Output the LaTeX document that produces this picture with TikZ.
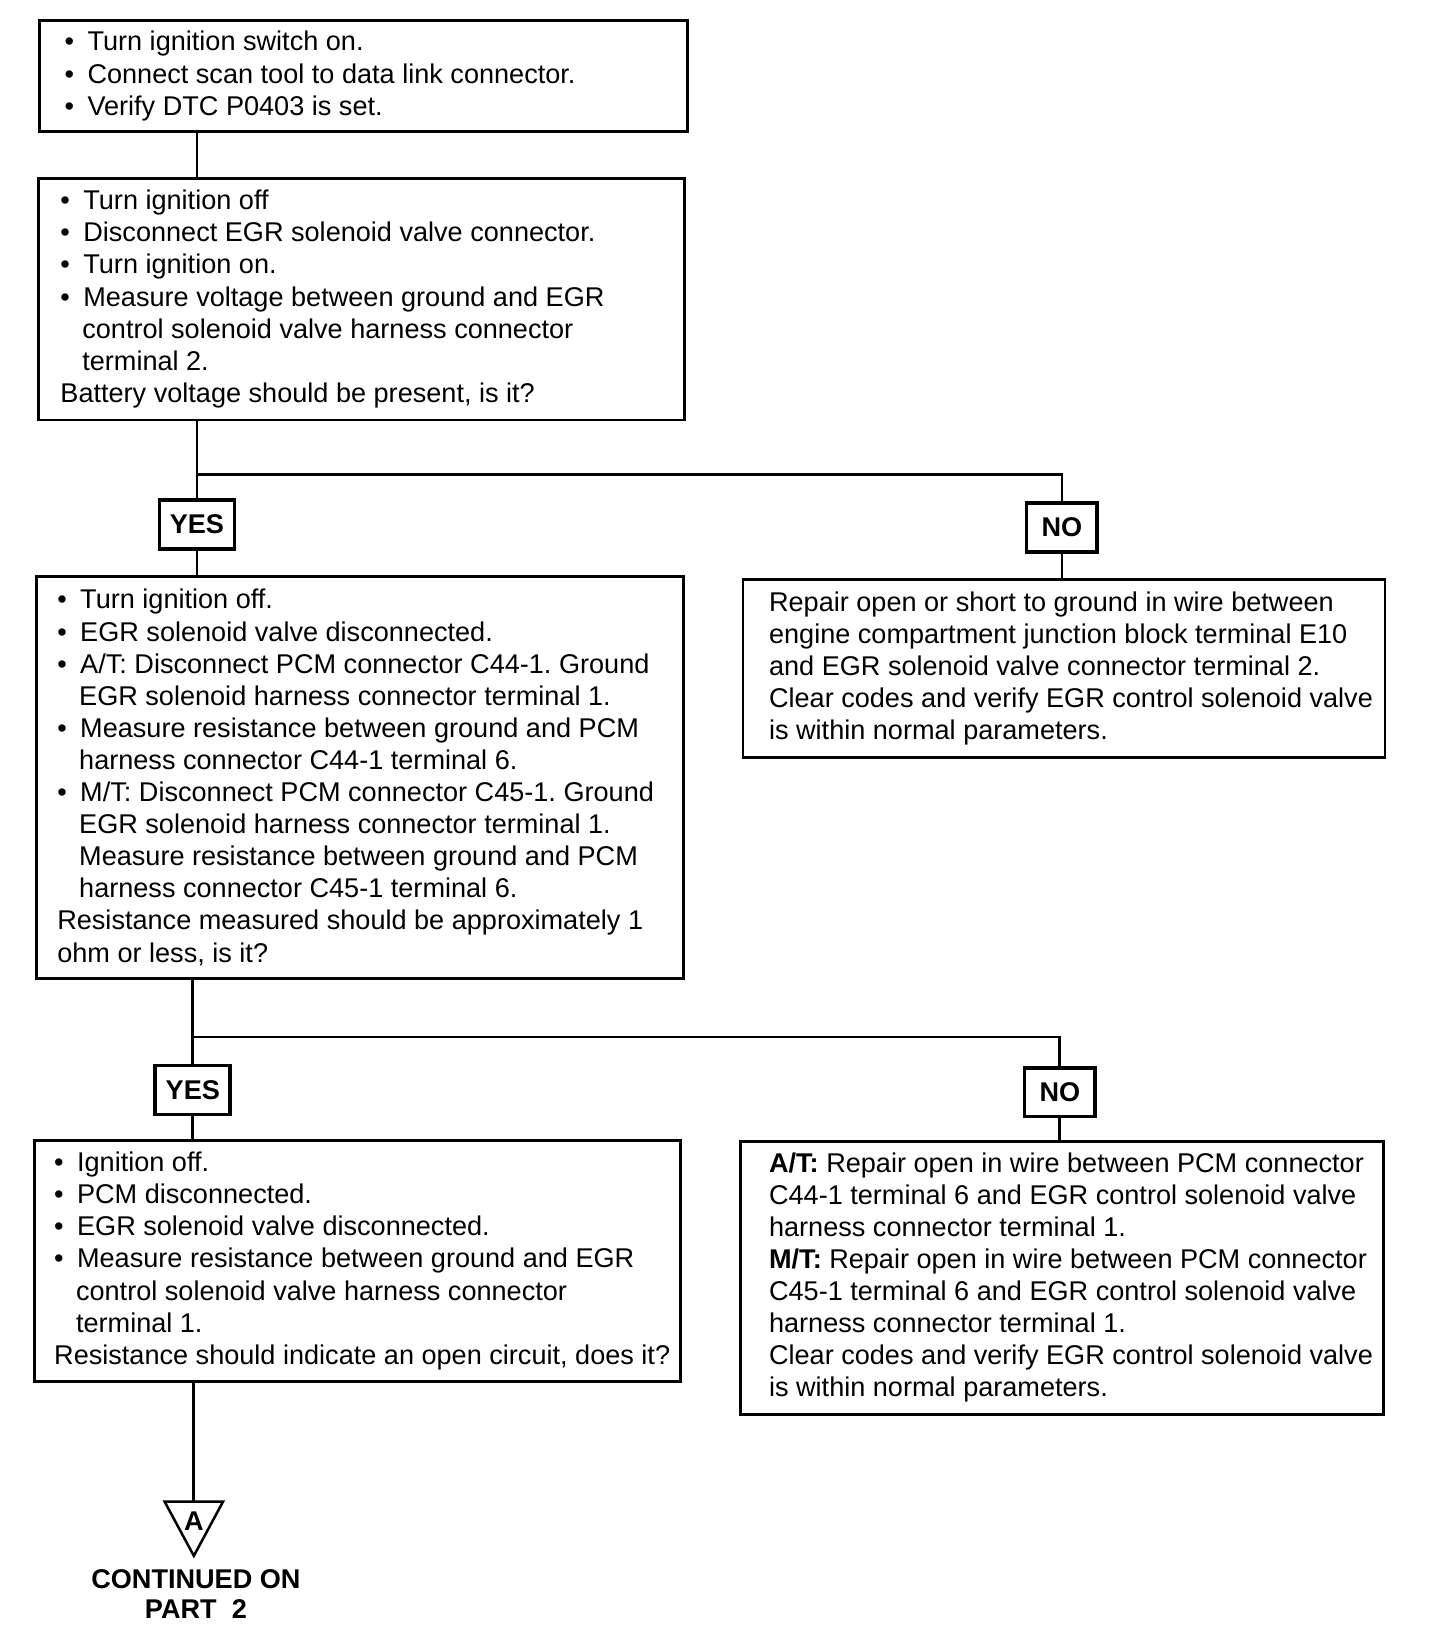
\documentclass[tikz,border=0pt]{standalone}
\usepackage{fontspec}
\setmainfont{Liberation Sans}
\usetikzlibrary{fit,calc}
\frenchspacing
\newcommand\bul{\makebox[11pt][l]{\textbullet}}
\newcommand\ind{\hspace*{10.5pt}}
\begin{document}
\begin{tikzpicture}[x=0.5pt,y=-0.5pt,
  box/.style={draw, line width=1.4pt, inner sep=0pt},
  yn/.style={draw, line width=1.8pt, font=\fontsize{13}{15}\selectfont\bfseries,
    minimum width=36pt, minimum height=23.5pt, inner sep=0pt},
  txt/.style={anchor=west, align=left, inner sep=0pt, font=\fontsize{13}{15.4}\selectfont},
  conn/.style={line width=1.3pt},
]
\useasboundingbox (0,0) rectangle (1397,1568);

% boxes
\node[box, fit={(38,20) (660,126)}] (b1) {};
\node[box, fit={(37,171) (657,403)}] (b2) {};
\node[box, fit={(35,553) (656,939)}] (b3) {};
\node[box, fit={(713,556) (1329,727)}] (b4) {};
\node[box, fit={(33,1094) (653,1326)}] (b5) {};
\node[box, fit={(711,1095) (1328,1357)}] (b6) {};

% texts
\node[txt] (t1) at ($(b1.west)+(25,0)$) {%
\bul Turn ignition switch on.\\
\bul Connect scan tool to data link connector.\\
\bul Verify DTC P0403 is set.};

\node[txt] (t2) at ($(b2.west)+(22,0)$) {%
\bul Turn ignition off\\
\bul Disconnect EGR solenoid valve connector.\\
\bul Turn ignition on.\\
\bul Measure voltage between ground and EGR\\
\ind control solenoid valve harness connector\\
\ind terminal 2.\\
Battery voltage should be present, is it?};

\node[txt] (t3) at ($(b3.west)+(21,0)$) {%
\bul Turn ignition off.\\
\bul EGR solenoid valve disconnected.\\
\bul A/T: Disconnect PCM connector C44-1. Ground\\
\ind EGR solenoid harness connector terminal 1.\\
\bul Measure resistance between ground and PCM\\
\ind harness connector C44-1 terminal 6.\\
\bul M/T: Disconnect PCM connector C45-1. Ground\\
\ind EGR solenoid harness connector terminal 1.\\
\ind Measure resistance between ground and PCM\\
\ind harness connector C45-1 terminal 6.\\
Resistance measured should be approximately 1\\
ohm or less, is it?};

\node[txt] (t4) at ($(b4.west)+(26,0)$) {%
Repair open or short to ground in wire between\\
engine compartment junction block terminal E10\\
and EGR solenoid valve connector terminal 2.\\
Clear codes and verify EGR control solenoid valve\\
is within normal parameters.};

\node[txt] (t5) at ($(b5.west)+(20,0)$) {%
\bul Ignition off.\\
\bul PCM disconnected.\\
\bul EGR solenoid valve disconnected.\\
\bul Measure resistance between ground and EGR\\
\ind control solenoid valve harness connector\\
\ind terminal 1.\\
Resistance should indicate an open circuit, does it?};

\node[txt] (t6) at ($(b6.west)+(28,0)$) {%
\textbf{A/T:} Repair open in wire between PCM connector\\
C44-1 terminal 6 and EGR control solenoid valve\\
harness connector terminal 1.\\
\textbf{M/T:} Repair open in wire between PCM connector\\
C45-1 terminal 6 and EGR control solenoid valve\\
harness connector terminal 1.\\
Clear codes and verify EGR control solenoid valve\\
is within normal parameters.};

% yes / no labels
\node[yn] (yes1) at (189,503) {YES};
\node[yn, minimum width=34pt] (no1) at (1019,506) {NO};
\node[yn] (yes2) at (185,1046) {YES};
\node[yn, minimum width=34pt] (no2) at (1017,1048) {NO};

\coordinate (j1) at (189,455);
\coordinate (j2) at (185,995);
\coordinate (tri) at (186,1441);

% connectors
\draw[conn] (b1.south -| yes1) -- (b2.north -| yes1);
\draw[conn] (b2.south -| yes1) -- (yes1.north);
\draw[conn] (j1) -| (no1.north);
\draw[conn] (yes1.south) -- (b3.north -| yes1);
\draw[conn] (no1.south) -- (b4.north -| no1);
\draw[conn] (b3.south -| yes2) -- (yes2.north);
\draw[conn] (j2) -| (no2.north);
\draw[conn] (yes2.south) -- (b5.north -| yes2);
\draw[conn] (no2.south) -- (b6.north -| no2);
\draw[conn] (b5.south -| tri) -- (tri);

% off-page connector
\draw[line width=1.2pt, line join=miter] ($(tri)+(-28,0)$) -- ($(tri)+(28,0)$) -- ($(tri)+(0,52)$) -- cycle;
\node[font=\fontsize{13}{15}\selectfont\bfseries, inner sep=0pt] (lblA) at ($(tri)+(0,19)$) {A};
\node[align=center, inner sep=0pt, font=\fontsize{13}{14.5}\selectfont\bfseries] (cont) at (188,1530) {CONTINUED ON\\PART\ \ 2};
\end{tikzpicture}
\end{document}
